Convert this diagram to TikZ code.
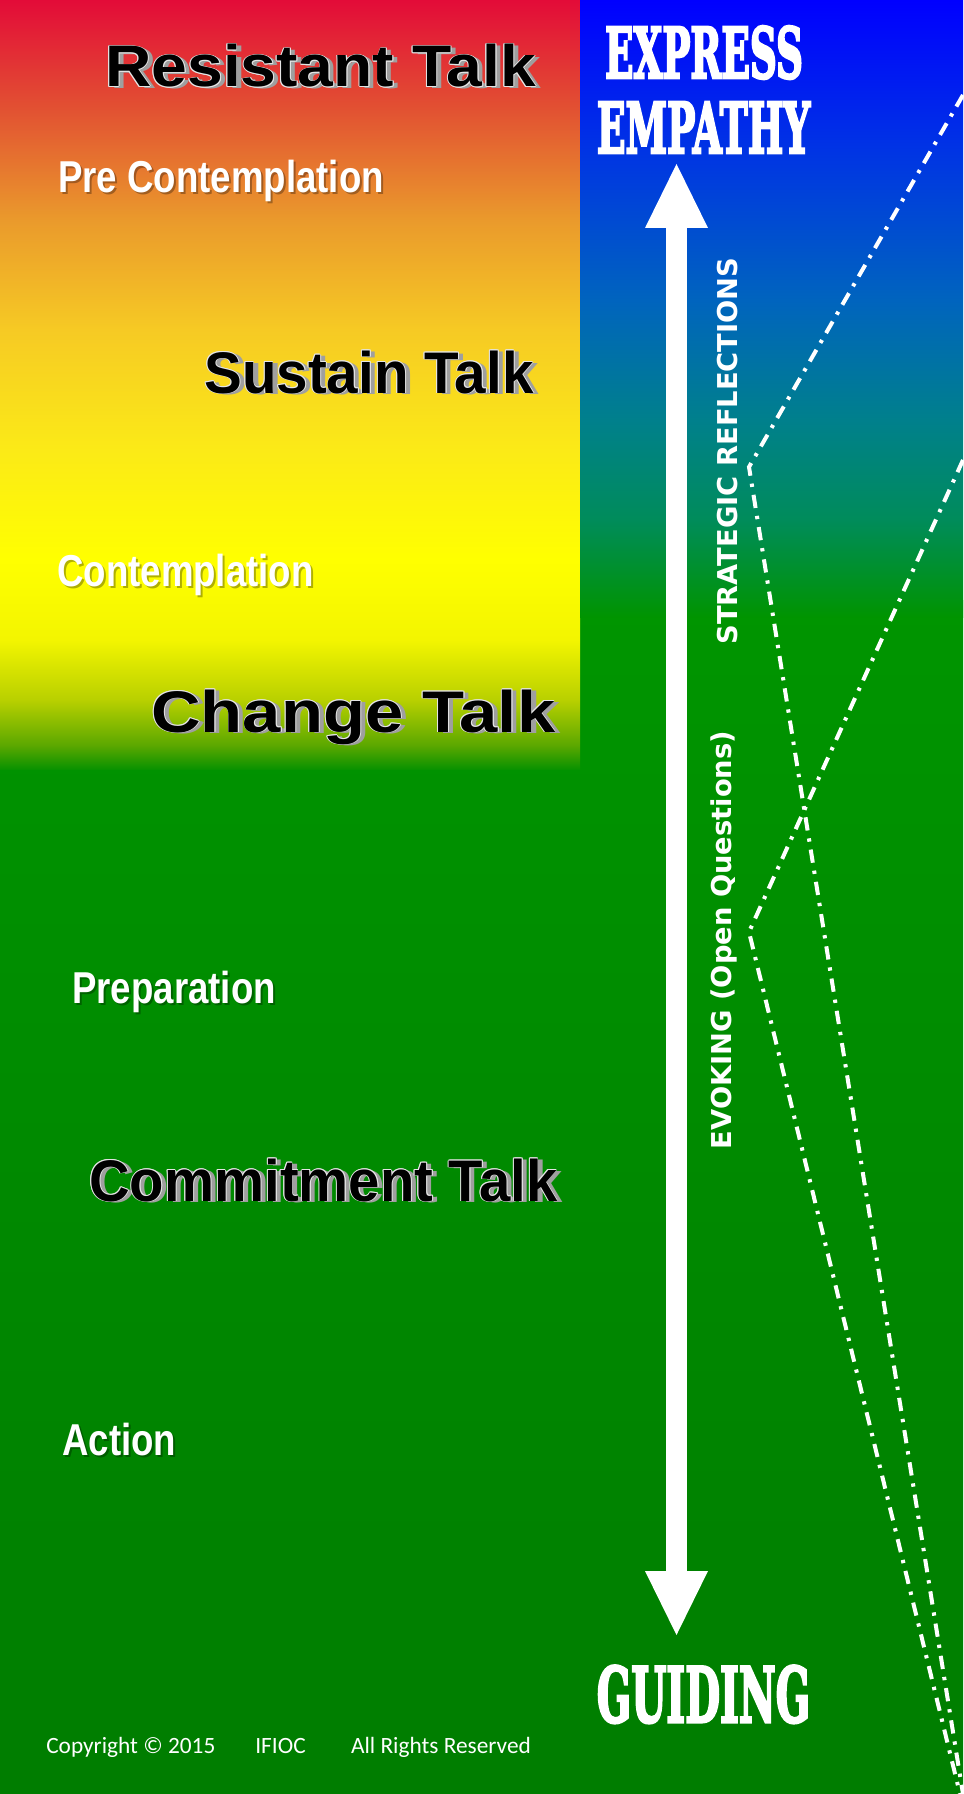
\documentclass[tikz,border=0pt]{standalone}
\usepackage{fontspec}
\usepackage{graphicx}
\usetikzlibrary{arrows.meta}
\setmainfont{Liberation Sans}
\newfontfamily\talkfamily{Liberation Sans}
\newfontfamily\stagefamily[FakeStretch=0.82]{Liberation Sans}
\newfontfamily\mottofamily[FakeBold=4]{DejaVu Serif}
\newfontfamily\skillfamily{DejaVu Sans}
\newfontfamily\noticefamily{Carlito}
%Farben
\definecolor{lpA}{HTML}{0A9200}
\definecolor{lpB}{HTML}{5CA800}
\definecolor{lpC}{HTML}{B8D000}
\definecolor{lpD}{HTML}{F3F500}
\definecolor{lpE}{HTML}{FFFF00}
\definecolor{lpF}{HTML}{FBEA17}
\definecolor{lpG}{HTML}{F6CA24}
\definecolor{lpH}{HTML}{EA9A2C}
\definecolor{lpI}{HTML}{E25232}
\definecolor{lpJ}{HTML}{E30B38}
\definecolor{rcA}{HTML}{009400}
\definecolor{rcB}{HTML}{008C5A}
\definecolor{rcC}{HTML}{00808C}
\definecolor{rcD}{HTML}{0064BE}
\definecolor{rcE}{HTML}{0034E4}
\definecolor{rcF}{HTML}{0000FF}
\definecolor{groundtop}{HTML}{009500}
\definecolor{groundbottom}{HTML}{007D00}
\pgfdeclareverticalshading{stagepanel}{100bp}{color(0bp)=(lpA); color(25bp)=(lpA);
  color(26.56bp)=(lpB); color(29.49bp)=(lpC); color(33.39bp)=(lpD); color(38.59bp)=(lpE);
  color(45.74bp)=(lpF); color(53.54bp)=(lpG); color(60.70bp)=(lpH); color(67.85bp)=(lpI);
  color(75bp)=(lpJ); color(100bp)=(lpJ)}
\pgfdeclareverticalshading{empathycolumn}{100bp}{color(0bp)=(rcA); color(25bp)=(rcA);
  color(32.86bp)=(rcB); color(40.96bp)=(rcC); color(50.69bp)=(rcD); color(62.84bp)=(rcE);
  color(75bp)=(rcF); color(100bp)=(rcF)}
\tikzset{
  talk/.style={font=\talkfamily\bfseries\fontsize{44pt}{48pt}\selectfont,
    text=black, inner sep=0pt, anchor=base west},
  talkrim/.style={talk, text=white!80!gray},
  talkshadow/.style={talk, text=gray!75, xshift=3.75pt, yshift=-1pt},
  stage/.style={font=\stagefamily\bfseries\fontsize{33.5pt}{36pt}\selectfont,
    text=white, inner sep=0pt, anchor=base west},
  stageshadow/.style={stage, text=black, opacity=0.3, xshift=1.5pt, yshift=-1.5pt},
  motto/.style={font=\mottofamily\bfseries\fontsize{52.5pt}{56pt}\selectfont,
    text=white, inner sep=0pt, anchor=base},
  skill/.style={font=\skillfamily\bfseries\fontsize{20.5pt}{24pt}\selectfont,
    text=white, inner sep=0pt, rotate=90},
  notice/.style={font=\noticefamily\fontsize{17.5pt}{20pt}\selectfont,
    text=white, inner sep=0pt, anchor=base west},
  spectrum/.style={draw=white, line width=15.75pt,
    {Triangle[width=47.25pt,length=48pt,line width=0pt]}-{Triangle[width=47.25pt,length=48pt,line width=0pt]}},
  reflection/.style={draw=white, line width=3pt,
    dash pattern=on 10pt off 6pt on 2.5pt off 6pt}
}
\newcommand{\talklabel}[4]{%
  \draw (#2) node [talkshadow] {\resizebox{#3}{\height}{#4}};
  \foreach \dx/\dy in {-0.7/0,0.7/0,0/-0.7,0/0.7,-0.5/-0.5,0.5/0.5,-0.5/0.5,0.5/-0.5}{
    \draw (#2) node [talkrim,xshift=\dx pt,yshift=\dy pt] {\resizebox{#3}{\height}{#4}};}
  \draw (#2) node (#1) [talk] {\resizebox{#3}{\height}{#4}};}
\newcommand{\stagelabel}[3]{%
  \draw (#2) node [stageshadow] {#3};
  \draw (#2) node (#1) [stage] {#3};}
\begin{document}
\begin{tikzpicture}[x=0.75pt,y=-0.75pt]
\useasboundingbox (0,0) rectangle (963,1794);
%Hintergrund
	\shade[top color=groundtop,bottom color=groundbottom] (0,600) rectangle (963,1794);
	\shade[shading=stagepanel] (0,0) rectangle (580,769);
	\shade[shading=empathycolumn] (580,0) rectangle (963,617);
%Pfeil
	\coordinate (empathytip) at (676.5,164);
	\coordinate (guidingtip) at (676.5,1635);
	\draw[spectrum] (empathytip) -- (guidingtip);
%Strichpunktlinien
	\coordinate (refltop) at (963,95);
	\coordinate (reflturn) at (749,467);
	\coordinate (reflend) at (963,1794);
	\coordinate (evoketop) at (963,460);
	\coordinate (evoketurn) at (749,932);
	\coordinate (evokeend) at (960,1794);
	\draw[reflection] (refltop) -- (reflturn) -- (reflend);
	\draw[reflection] (evoketop) -- (evoketurn) -- (evokeend);
%Talk
	\talklabel{resistant}{105,87}{323pt}{Resistant Talk}
	\talklabel{sustain}{204,393}{247pt}{Sustain Talk}
	\talklabel{change}{151,732}{303pt}{Change Talk}
	\talklabel{commitment}{89,1201}{351pt}{Commitment Talk}
%Stufen
	\stagelabel{precontemplation}{58,193}{Pre Contemplation}
	\stagelabel{contemplation}{57,586}{Contemplation}
	\stagelabel{preparation}{72,1003}{Preparation}
	\stagelabel{action}{62,1455}{Action}
%Rechte Spalte
	\draw (704,78) node (express) [motto]
		{\resizebox{148.5pt}{\height}{EXPRESS}};
	\draw (703.5,153) node (empathy) [motto]
		{\resizebox{160pt}{\height}{EMPATHY}};
	\draw (703.5,1722) node (guiding) [motto,font=\mottofamily\bfseries\fontsize{57pt}{60pt}\selectfont]
		{\resizebox{160pt}{\height}{GUIDING}};
	\draw (728,451) node (strategic) [skill]
		{STRATEGIC REFLECTIONS};
	\draw (724,940) node (evoking) [skill]
		{EVOKING (Open Questions)};
%Copyright
	\draw (46,1753) node (notice) [notice]
		{Copyright © 2015\hspace{30pt}IFIOC\hspace{34pt}All Rights Reserved};
\end{tikzpicture}
\end{document}
